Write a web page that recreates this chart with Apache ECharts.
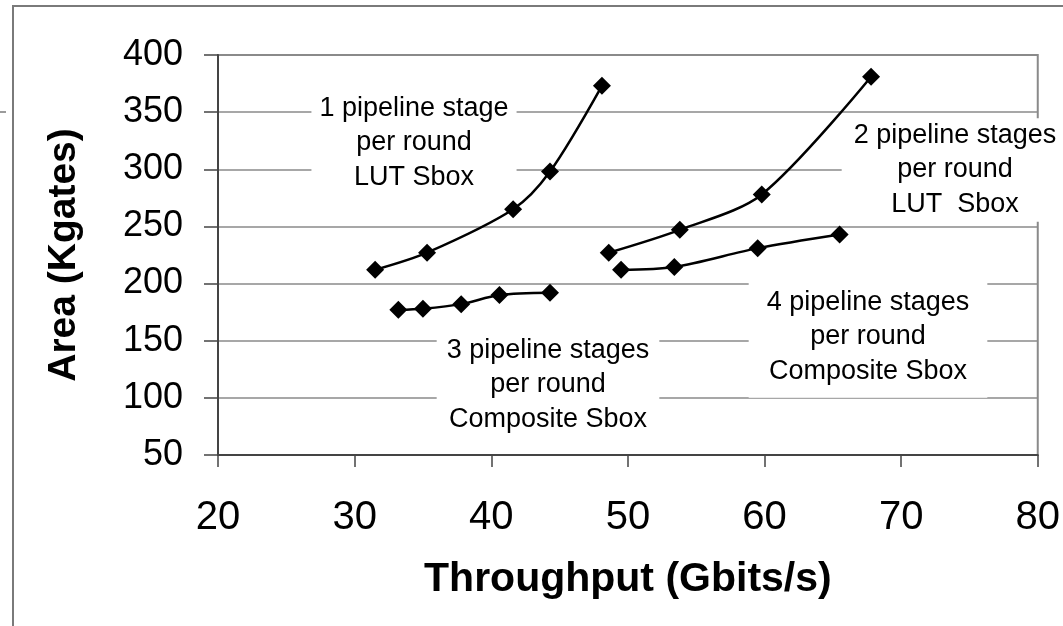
<!DOCTYPE html>
<html>
<head>
<meta charset="utf-8">
<script src="https://cdn.jsdelivr.net/npm/echarts@6/dist/echarts.min.js"></script>
<style>
html,body{margin:0;padding:0;background:#fff;}
#chart{width:1063px;height:626px;}
</style>
</head>
<body>
<div id="chart"></div>
<script>
// ---- data ----
const xTitle = 'Throughput (Gbits/s)';
const yTitle = 'Area (Kgates)';

const lut1X = [31.5, 35.3, 41.6, 44.3, 48.1];
const lut1Y = [212, 227, 265, 298, 373];

const lut2X = [48.6, 53.8, 59.8, 67.8];
const lut2Y = [227, 247, 278, 381];

const comp3X = [33.2, 35.0, 37.8, 40.6, 44.3];
const comp3Y = [177, 178, 182, 190, 192];

const comp4X = [49.5, 53.4, 59.5, 65.5];
const comp4Y = [212, 214.5, 231, 243];

const label1 = '1 pipeline stage\nper round\nLUT Sbox';
const label2 = '2 pipeline stages\nper round\nLUT  Sbox';
const label3 = '3 pipeline stages\nper round\nComposite Sbox';
const label4 = '4 pipeline stages\nper round\nComposite Sbox';

function pairs(xs, ys){ return xs.map((x,i)=>[x, ys[i]]); }

const FONT = '"Liberation Sans", Arial, Helvetica, sans-serif';

function seriesOf(name, xs, ys){
  return {
    name: name, type: 'line', smooth: 0.3,
    data: pairs(xs, ys),
    symbol: 'diamond', symbolSize: 18,
    lineStyle: {color: '#000', width: 2.5},
    itemStyle: {color: '#000'},
    z: 3
  };
}

function note(text, cx, cy, padding){
  return {
    type: 'text', z: 100,
    style: {
      text: text, x: cx, y: cy, align: 'center', verticalAlign: 'middle',
      font: '27px ' + FONT, lineHeight: 34.5, fill: '#000',
      backgroundColor: '#fff', padding: padding
    }
  };
}

const chart = echarts.init(document.getElementById('chart'), null, {renderer: 'canvas'});
chart.setOption({
  animation: false,
  backgroundColor: '#fff',
  grid: {left: 218, right: 20, top: 55, bottom: 171, show: true,
         borderColor: '#8a8a8a', borderWidth: 2, backgroundColor: 'transparent'},
  xAxis: {
    type: 'value', min: 20, max: 80, interval: 10,
    name: xTitle, nameLocation: 'middle', nameGap: 104,
    nameTextStyle: {fontFamily: FONT, fontWeight: 'bold', fontSize: 41, color: '#000'},
    axisLine: {show: true, lineStyle: {color: '#444', width: 2}},
    axisTick: {show: true, inside: false, length: 12, lineStyle: {color: '#444', width: 1.5}},
    axisLabel: {fontFamily: FONT, fontSize: 40, color: '#000', margin: 43},
    splitLine: {show: false}
  },
  yAxis: {
    type: 'value', min: 50, max: 400, interval: 50,
    name: yTitle, nameLocation: 'middle', nameGap: 134, nameRotate: 90,
    nameTextStyle: {fontFamily: FONT, fontWeight: 'bold', fontSize: 39, color: '#000'},
    axisLine: {show: true, lineStyle: {color: '#444', width: 2}},
    axisTick: {show: true, inside: false, length: 14, lineStyle: {color: '#444', width: 1.5}},
    axisLabel: {fontFamily: FONT, fontSize: 36, color: '#000', margin: 35},
    splitLine: {show: true, lineStyle: {color: '#8a8a8a', width: 1.5}}
  },
  series: [
    seriesOf('1 stage LUT', lut1X, lut1Y),
    seriesOf('2 stages LUT', lut2X, lut2Y),
    seriesOf('3 stages Composite', comp3X, comp3Y),
    seriesOf('4 stages Composite', comp4X, comp4Y)
  ],
  graphic: [
    {type: 'rect', z: 0, silent: true,
     shape: {x: 13, y: 6, width: 1200, height: 800},
     style: {fill: 'none', stroke: '#7a7a7a', lineWidth: 2}},
    {type: 'line', z: 0, silent: true,
     shape: {x1: 0, y1: 112, x2: 6, y2: 112},
     style: {stroke: '#7a7a7a', lineWidth: 1.5}},
    note(label1, 414, 143, [4, 8, 4, 8]),
    note(label2, 955, 170, [0, 12, 0, 12]),
    note(label3, 548, 385, [2, 10, 2, 10]),
    note(label4, 868, 337, [4, 18, 14, 18])
  ]
});
</script>
</body>
</html>
